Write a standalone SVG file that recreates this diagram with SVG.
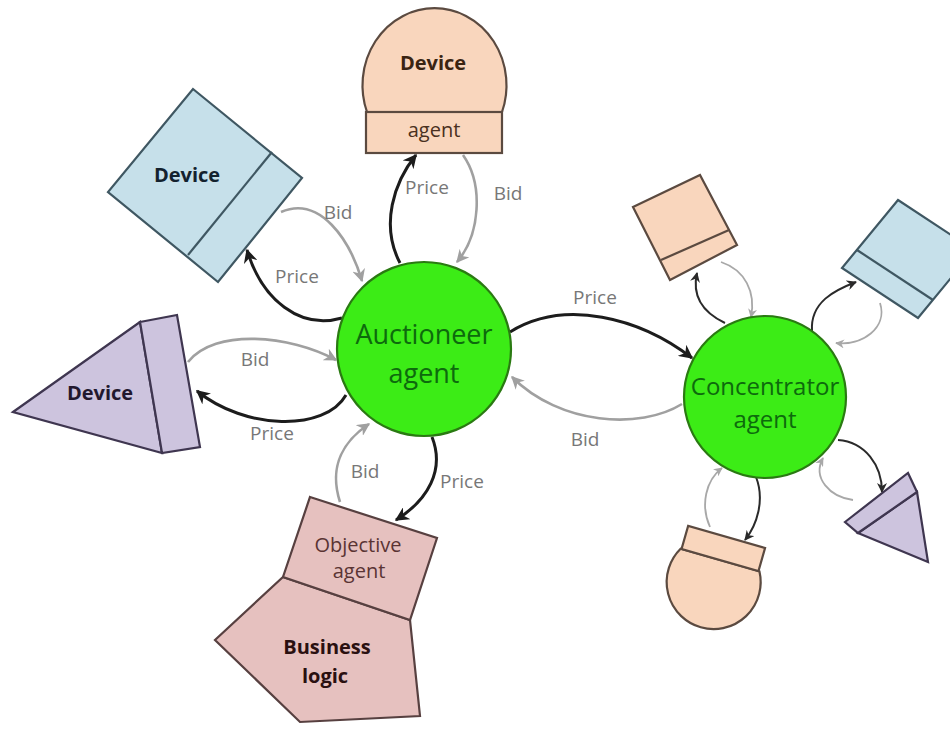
<svg xmlns="http://www.w3.org/2000/svg" width="950" height="729" viewBox="0 0 950 729">
<style>
text{font-family:"Open Sans","Noto Sans","Liberation Sans",sans-serif;text-anchor:middle}
.lbl{font-size:19px;fill:#777777}
.nt{font-size:20px}
.b{font-weight:bold}
.peach{fill:#f9d6bd;stroke:#5b4a40;stroke-width:2.2}
.blue{fill:#c6e0ea;stroke:#3f5762;stroke-width:2.2}
.lav{fill:#cdc4de;stroke:#3f3650;stroke-width:2.2}
.pink{fill:#e6c1bf;stroke:#574040;stroke-width:2.2}
.green{fill:#3cec16;stroke:#2a7a12;stroke-width:2.2}
.gt{fill:#0d6a0d}
.pk{fill:none;stroke:#1c1c1c;stroke-width:3;marker-end:url(#ak)}
.pg{fill:none;stroke:#a0a0a0;stroke-width:2.6;marker-end:url(#ag)}
.sk{fill:none;stroke:#2a2a2a;stroke-width:2;marker-end:url(#sak)}
.sg{fill:none;stroke:#a8a8a8;stroke-width:1.8;marker-end:url(#sag)}
</style>
<defs>
<marker id="ak" viewBox="0 0 10 10" refX="9" refY="5" markerWidth="14" markerHeight="14" markerUnits="userSpaceOnUse" orient="auto"><path d="M0,0 L10,5 L0,10 L3,5 Z" fill="#1c1c1c"/></marker>
<marker id="ag" viewBox="0 0 10 10" refX="9" refY="5" markerWidth="13" markerHeight="13" markerUnits="userSpaceOnUse" orient="auto"><path d="M0,0 L10,5 L0,10 L3,5 Z" fill="#a0a0a0"/></marker>
<marker id="sak" viewBox="0 0 10 10" refX="9" refY="5" markerWidth="10" markerHeight="10" markerUnits="userSpaceOnUse" orient="auto"><path d="M0,0 L10,5 L0,10 L3,5 Z" fill="#2a2a2a"/></marker>
<marker id="sag" viewBox="0 0 10 10" refX="9" refY="5" markerWidth="9" markerHeight="9" markerUnits="userSpaceOnUse" orient="auto"><path d="M0,0 L10,5 L0,10 L3,5 Z" fill="#a8a8a8"/></marker>
</defs>
<rect width="950" height="729" fill="#ffffff"/>

<g id="connectors">
<path class="pk" d="M400,263 C380,225 394,182 416,155"/>
<path class="pg" d="M463,155 C484,185 480,235 457,262"/>
<path class="pk" d="M342,318 C300,330 262,300 247,250"/>
<path class="pg" d="M281,212 C320,195 350,240 362,281"/>
<path class="pg" d="M188,362 C215,328 290,335 336,360"/>
<path class="pk" d="M346,395 C325,432 245,430 197,391"/>
<path class="pg" d="M340,502 C328,465 345,440 369,424"/>
<path class="pk" d="M432,437 C445,470 428,500 396,520"/>
<path class="pk" d="M510,332 C565,298 640,318 692,358"/>
<path class="pg" d="M682,404 C640,430 560,425 512,377"/>
<path class="sk" d="M725,323 C702,312 692,295 697,273"/>
<path class="sg" d="M721,262 C745,270 756,292 751,317"/>
<path class="sk" d="M812,331 C810,302 835,290 856,282"/>
<path class="sg" d="M880,303 C888,328 862,346 836,343"/>
<path class="sk" d="M838,440 C865,442 882,465 882,492"/>
<path class="sg" d="M853,500 C830,497 812,478 823,458"/>
<path class="sk" d="M756,477 C765,500 757,525 745,540"/>
<path class="sg" d="M710,527 C700,505 706,480 722,468"/>
</g>

<g id="labels">
<text class="lbl" x="427" y="194">Price</text>
<text class="lbl" x="508" y="200">Bid</text>
<text class="lbl" x="338" y="219">Bid</text>
<text class="lbl" x="297" y="283">Price</text>
<text class="lbl" x="255" y="366">Bid</text>
<text class="lbl" x="272" y="440">Price</text>
<text class="lbl" x="365" y="478">Bid</text>
<text class="lbl" x="462" y="488">Price</text>
<text class="lbl" x="595" y="304">Price</text>
<text class="lbl" x="585" y="446">Bid</text>
</g>

<g id="auctioneer">
<circle class="green" cx="424" cy="349" r="87"/>
<text class="gt" x="424" y="344" font-size="27">Auctioneer</text>
<text class="gt" x="424" y="383" font-size="27">agent</text>
</g>

<g id="concentrator">
<circle class="green" cx="765" cy="397" r="81"/>
<text class="gt" x="765" y="395" font-size="24">Concentrator</text>
<text class="gt" x="765" y="428" font-size="24">agent</text>
</g>

<g id="device-top">
<path class="peach" d="M367,112 A72,77 0 1 1 502,112 Z"/>
<rect class="peach" x="366" y="112" width="136" height="41"/>
<text class="nt b" x="433" y="70" fill="#3a2412">Device</text>
<text class="nt" x="434" y="137" fill="#4a3020">agent</text>
</g>

<g id="device-blue">
<polygon class="blue" points="193,89 302,178 218,282 108,192"/>
<line class="blue" x1="272" y1="152" x2="188" y2="255"/>
<text class="nt b" x="187" y="182" fill="#13222e">Device</text>
</g>

<g id="device-triangle">
<polygon class="lav" points="13,412 140,322 162,453"/>
<polygon class="lav" points="140,322 177,315 200,447 162,453"/>
<text class="nt b" x="100" y="400" fill="#22182e">Device</text>
</g>

<g id="objective">
<polygon class="pink" points="283,577 410,620 420,716 300,722 215,640"/>
<polygon class="pink" points="310,497 437,538 410,620 283,577"/>
<text class="nt" x="358" y="552" fill="#5a3434">Objective</text>
<text class="nt" x="359" y="578" fill="#5a3434">agent</text>
<text class="nt b" x="327" y="654" fill="#2a1010">Business</text>
<text class="nt b" x="325" y="683" fill="#2a1010">logic</text>
</g>

<g id="sat-peach-box">
<polygon class="peach" points="633,207 700,175 737,245 670,280"/>
<line class="peach" x1="661" y1="260" x2="729" y2="230"/>
</g>

<g id="sat-blue-box">
<polygon class="blue" points="898,200 974,250 918,318 842,268"/>
<line class="blue" x1="857" y1="250" x2="933" y2="300"/>
</g>

<g id="sat-triangle">
<polygon class="lav" points="858,533 917,492 928,562"/>
<polygon class="lav" points="845,522 908,473 917,492 858,533"/>
</g>

<g id="sat-dome" transform="translate(720,560) rotate(16)">
<path class="peach" d="M-41,0 A47,47 0 1 0 41,0 Z"/>
<rect class="peach" x="-40" y="-24" width="80" height="24"/>
</g>
</svg>
